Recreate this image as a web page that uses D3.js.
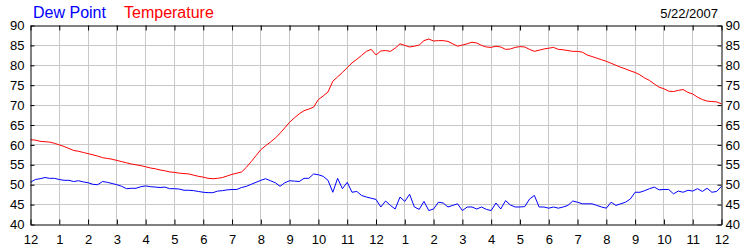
<!DOCTYPE html>
<html>
<head>
<meta charset="utf-8">
<script src="https://cdn.jsdelivr.net/npm/d3@7"></script>
<style>
  body { margin: 0; background: #fff; }
  text { font-family: Arial, "Liberation Sans", sans-serif; }
  .grid line { stroke: #c8c8c8; stroke-width: 1; }
  .axis path, .axis line { stroke: #000; }
  .axis text { font-size: 13px; fill: #000; }
</style>
</head>
<body>
<div id="chart"></div>
<script>
var svgWidth = 750;
var svgHeight = 250;

var margin = { top: 25, right: 29, bottom: 26, left: 30 };
var width = svgWidth - margin.left - margin.right;
var height = svgHeight - margin.top - margin.bottom;

// readings every 10 minutes, midnight to midnight
var sampleMinutes = 10;
var chartDate = "5/22/2007";
var hourLabels = ["12","1","2","3","4","5","6","7","8","9","10","11",
                  "12","1","2","3","4","5","6","7","8","9","10","11","12"];
var yTicks = [40, 45, 50, 55, 60, 65, 70, 75, 80, 85, 90];

var temperature = [
  61.3, 61.2, 60.9, 60.8, 60.7, 60.4,
  60.0, 59.6, 59.1, 58.6, 58.4, 58.1,
  57.8, 57.5, 57.2, 56.8, 56.6, 56.4,
  56.1, 55.8, 55.5, 55.2, 55.0, 54.8,
  54.5, 54.2, 54.0, 53.7, 53.5, 53.2,
  53.1, 52.9, 52.8, 52.7, 52.4, 52.1,
  51.9, 51.6, 51.5, 51.6, 51.8, 52.2,
  52.6, 52.9, 53.2, 54.4, 55.8, 57.3,
  58.8, 59.8, 60.7, 61.7, 62.9, 64.3,
  65.7, 66.8, 67.8, 68.6, 69.0, 69.5,
  71.4, 72.3, 73.3, 76.0, 77.1, 78.2,
  79.4, 80.6, 81.5, 82.5, 83.5, 84.0,
  82.6, 83.6, 83.7, 83.5, 84.3, 85.4,
  85.0, 84.6, 84.8, 85.1, 86.2, 86.6,
  86.1, 86.2, 86.2, 86.0, 85.4, 84.8,
  85.1, 85.4, 85.8, 85.6, 85.0, 84.6,
  84.5, 84.8, 84.6, 84.0, 84.1, 84.5,
  84.7, 84.6, 84.0, 83.5, 83.8, 84.1,
  84.3, 84.5, 84.0, 83.9, 83.7, 83.5,
  83.5, 83.3, 82.6, 82.2, 81.8, 81.4,
  81.0, 80.5, 80.0, 79.5, 79.1, 78.6,
  78.2, 77.6, 76.8, 76.2, 75.3, 74.5,
  74.1, 73.5, 73.4, 73.7, 73.9, 73.2,
  72.8, 72.0, 71.4, 71.0, 70.9, 70.8,
  70.3
];

var dewPoint = [
  50.6, 51.3, 51.5, 51.8, 51.6, 51.6,
  51.3, 51.1, 51.1, 50.8, 51.0, 50.7,
  50.5, 50.1, 50.0, 50.8, 50.6, 50.3,
  50.0, 49.6, 49.0, 49.1, 49.1, 49.5,
  49.7, 49.5, 49.4, 49.3, 49.4, 49.0,
  49.0, 48.9, 48.6, 48.6, 48.5, 48.3,
  48.1, 48.0, 48.0, 48.4, 48.5, 48.7,
  48.8, 48.8, 49.3, 49.6, 50.1, 50.6,
  51.1, 51.5, 51.0, 50.5, 49.6, 50.5,
  51.0, 50.9, 50.8, 51.6, 51.6, 52.7,
  52.5, 52.1, 51.1, 48.1, 51.6, 49.0,
  50.6, 48.1, 48.3, 47.3, 46.9, 46.6,
  46.3, 44.4, 45.9, 44.8, 43.9, 46.9,
  45.8, 47.6, 44.4, 43.8, 45.8, 43.5,
  43.9, 45.6, 45.4, 44.4, 44.8, 45.2,
  43.5, 44.4, 44.4, 43.9, 44.4, 43.8,
  43.5, 45.4, 43.9, 46.0, 44.9, 44.4,
  44.4, 44.5, 46.4, 47.3, 44.4, 44.4,
  44.1, 44.4, 44.1, 44.4, 44.8, 45.9,
  45.6, 45.2, 45.2, 45.2, 44.8, 44.4,
  44.1, 45.6, 44.8, 45.2, 45.6, 46.4,
  48.1, 48.1, 48.5, 49.0, 49.4, 48.7,
  48.8, 48.8, 47.7, 48.4, 48.1, 48.6,
  48.4, 49.0, 48.3, 49.1, 48.1, 48.3,
  49.6
];

var svg = d3.select("#chart").append("svg")
  .attr("width", svgWidth)
  .attr("height", svgHeight);

var chartGroup = svg.append("g")
  .attr("transform", `translate(${margin.left + 0.5}, ${margin.top + 0.5})`);

// scales
var xScale = d3.scaleLinear().domain([0, 24]).range([0, width]);
var yScale = d3.scaleLinear().domain([40, 90]).range([height, 0]);
var hourTicks = d3.range(0, 25);

// gridlines
chartGroup.append("g").classed("grid", true)
  .selectAll("line")
  .data(hourTicks.slice(1, 24))
  .enter()
  .append("line")
  .attr("x1", d => Math.round(xScale(d)))
  .attr("x2", d => Math.round(xScale(d)))
  .attr("y1", 0)
  .attr("y2", height);

chartGroup.append("g").classed("grid", true)
  .selectAll("line")
  .data(yTicks.slice(1, yTicks.length - 1))
  .enter()
  .append("line")
  .attr("x1", 0)
  .attr("x2", width)
  .attr("y1", d => Math.round(yScale(d)))
  .attr("y2", d => Math.round(yScale(d)));

// lines
var line = d3.line()
  .x((d, i) => xScale(i * sampleMinutes / 60))
  .y(d => yScale(d));

chartGroup.append("path")
  .datum(dewPoint)
  .attr("fill", "none")
  .attr("stroke", "#0000ff")
  .attr("stroke-width", 1)
  .attr("d", line);

chartGroup.append("path")
  .datum(temperature)
  .attr("fill", "none")
  .attr("stroke", "#ff0000")
  .attr("stroke-width", 1)
  .attr("d", line);

// axes, ticks point inward
var bottomAxis = d3.axisBottom(xScale)
  .tickValues(hourTicks)
  .tickFormat((d, i) => hourLabels[i])
  .tickSizeInner(-5).tickSizeOuter(0).tickPadding(10);

var topAxis = d3.axisTop(xScale)
  .tickValues(hourTicks)
  .tickFormat("")
  .tickSizeInner(-5).tickSizeOuter(0);

var leftAxis = d3.axisLeft(yScale)
  .tickValues(yTicks)
  .tickSizeInner(-4).tickSizeOuter(0).tickPadding(6);

var rightAxis = d3.axisRight(yScale)
  .tickValues(yTicks)
  .tickSizeInner(-4).tickSizeOuter(0).tickPadding(4);

chartGroup.append("g").classed("axis", true)
  .attr("transform", `translate(0, ${height})`)
  .call(bottomAxis);

chartGroup.append("g").classed("axis", true)
  .call(topAxis);

chartGroup.append("g").classed("axis", true)
  .call(leftAxis);

chartGroup.append("g").classed("axis", true)
  .attr("transform", `translate(${width}, 0)`)
  .call(rightAxis);

svg.selectAll(".axis text").attr("font-family", null);
svg.selectAll(".axis").attr("font-size", null).attr("font-family", null);

// legend + date
svg.append("text")
  .attr("x", 33).attr("y", 18)
  .attr("font-size", "16px")
  .attr("fill", "#0000ff")
  .text("Dew Point");

svg.append("text")
  .attr("x", 124).attr("y", 18)
  .attr("font-size", "16px")
  .attr("fill", "#ff0000")
  .text("Temperature");

svg.append("text")
  .attr("x", 718).attr("y", 18)
  .attr("text-anchor", "end")
  .attr("font-size", "13px")
  .attr("fill", "#000")
  .text(chartDate);
</script>
</body>
</html>
